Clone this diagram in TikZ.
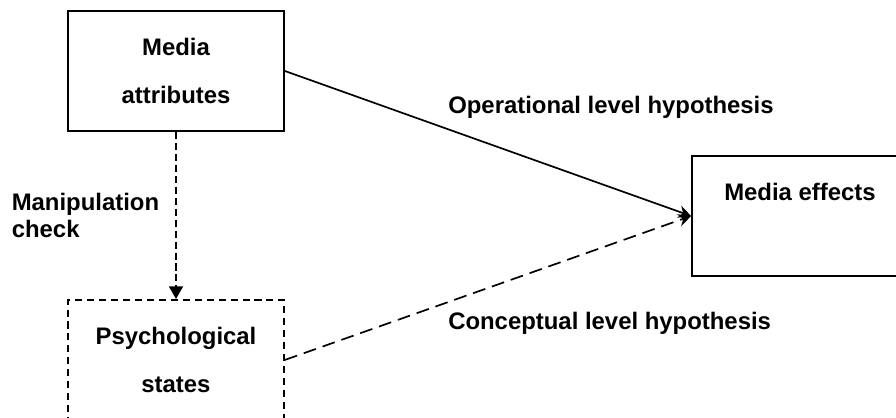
\documentclass[tikz,border=0pt]{standalone}
\usepackage{fontspec}
\setmainfont{Liberation Sans}
\usetikzlibrary{math}
\usetikzlibrary{arrows.meta, positioning}

\begin{document}
\begin{tikzpicture}[
    box/.style={draw, line width=1.3pt, minimum width=5.4cm, minimum height=3cm, inner sep=0pt, align=center, font=\bfseries\fontsize{17}{34.7}\selectfont},
    lbl/.style={inner sep=0pt, align=left, font=\bfseries\fontsize{17}{19.1}\selectfont},
    link/.style={line width=1.2pt, -{Stealth[length=9pt, width=9pt, inset=3pt]}}]
          \tikzmath{
            \W=22.4;
            \H=10.45;
            \cx=4.4;
            \hx=11.2;}
          \useasboundingbox (0,0) rectangle (\W,\H);
          \clip (0,0) rectangle (\W,\H);
          \node[box] (attrib) at (\cx,8.675) {Media\\attributes};
          \node[box, dash pattern=on 5pt off 3.5pt, anchor=north] (psych) at (\cx,2.975) {Psychological\\states};
          \node[box] (effects) at (20,5.05) {Media effects\\\phantom{x}};
          \draw[line width=1.2pt, dash pattern=on 5pt off 2.8pt, -{Triangle[length=9pt, width=10pt]}] (attrib) -- node[lbl, left=0.4cm] (check) {Manipulation\\check} (psych);
          \draw[link] (attrib.east) -- (effects.west);
          \draw[link, dash pattern=on 9.2pt off 5pt] (psych.east) -- (effects.west);
          \node[lbl, anchor=west] (oper) at (\hx,7.775) {Operational level hypothesis};
          \node[lbl, anchor=west] (concept) at (\hx,2.375) {Conceptual level hypothesis};
        \end{tikzpicture}
\end{document}
